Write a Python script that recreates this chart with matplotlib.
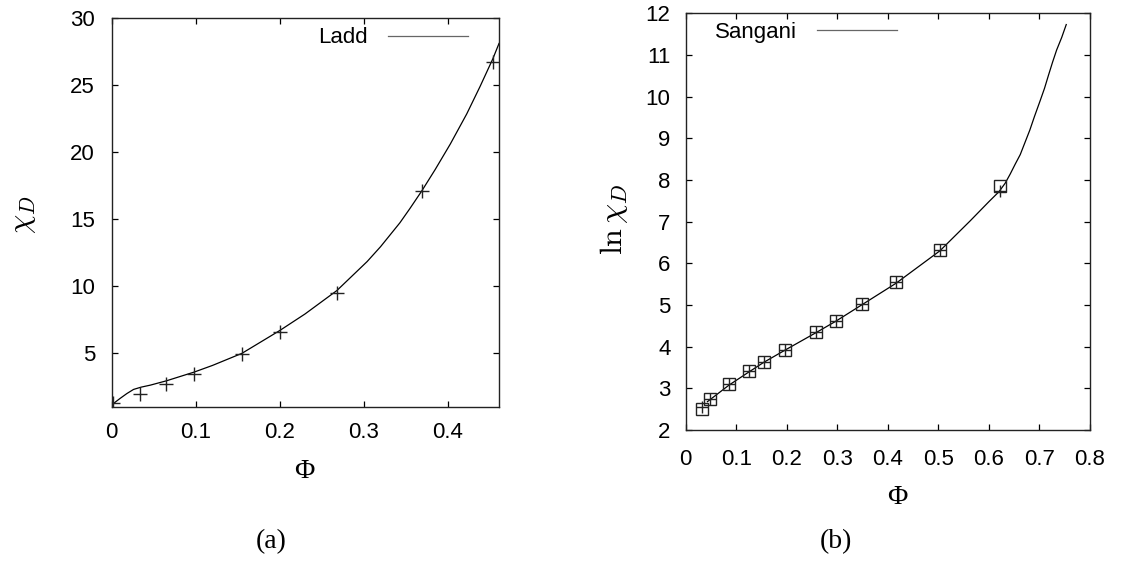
import matplotlib
matplotlib.use("Agg")
import matplotlib.pyplot as plt

# panel (a): Ladd curve and simulation points
ladd_phi = [0.0, 0.005, 0.01, 0.018, 0.026, 0.035, 0.046, 0.065, 0.098,
            0.12, 0.155, 0.200, 0.23, 0.268, 0.304, 0.32, 0.343, 0.355,
            0.369, 0.385, 0.403, 0.4226, 0.4385, 0.4536, 0.461]
ladd_chi = [1.15, 1.4, 1.64, 2.0, 2.31, 2.48, 2.63, 2.95, 3.6,
            4.1, 5.0, 6.7, 7.93, 9.68, 11.84, 12.95, 14.73, 15.8,
            17.1, 18.7, 20.6, 22.85, 24.9, 26.95, 28.1]
sim_a_phi = [0.002, 0.034, 0.065, 0.098, 0.155, 0.200, 0.268, 0.369, 0.454]
sim_a_chi = [1.29, 2.0, 2.74, 3.49, 4.93, 6.57, 9.53, 17.1, 26.7]

# panel (b): Sangani curve (ln chi_D) and two sets of points
sang_phi = [0.043, 0.086, 0.126, 0.154, 0.197, 0.257, 0.297, 0.348, 0.416,
            0.503, 0.563, 0.60, 0.62, 0.632, 0.642, 0.652, 0.662, 0.681,
            0.69, 0.701, 0.71, 0.718, 0.726, 0.734, 0.744, 0.753]
sang_ln = [2.68, 3.08, 3.40, 3.62, 3.92, 4.33, 4.61, 5.00, 5.52,
           6.30, 7.02, 7.48, 7.72, 7.92, 8.14, 8.38, 8.61, 9.2,
           9.52, 9.89, 10.2, 10.52, 10.83, 11.12, 11.42, 11.73]
sim_b_phi = [0.032, 0.048, 0.086, 0.126, 0.154, 0.197, 0.257, 0.297,
             0.348, 0.416, 0.503, 0.622]
sim_b_sq = [2.50, 2.74, 3.10, 3.42, 3.64, 3.92, 4.34, 4.62, 5.02, 5.54,
            6.32, 7.86]
sim_b_cross = [2.54, 2.74, 3.10, 3.42, 3.64, 3.92, 4.34, 4.62, 5.02, 5.54,
               6.32, 7.74]

plt.rcParams["mathtext.fontset"] = "cm"
sans = "Liberation Sans"
serif = "Liberation Serif"
TICK_FS = 16

W, H = 1137, 565
fig = plt.figure(figsize=(W / 100, H / 100), dpi=100)


def px_rect(left, right, top, bottom):
    return [left / W, 1 - bottom / H, (right - left) / W, (bottom - top) / H]


def style_axes(ax, xpad, ypad):
    ax.tick_params(direction="in", top=True, right=True, length=4.5,
                   width=0.9, labelsize=TICK_FS)
    ax.tick_params(axis="x", pad=xpad)
    ax.tick_params(axis="y", pad=ypad)
    for lab in ax.get_xticklabels() + ax.get_yticklabels():
        lab.set_family(sans)
    for sp in ax.spines.values():
        sp.set_linewidth(1.0)
        sp.set_color("#222222")


# ---- (a)
ax1 = fig.add_axes(px_rect(111.7, 499, 18, 407))
ax1.plot(ladd_phi, ladd_chi, color="black", lw=0.9, label="Ladd")
ax1.plot(sim_a_phi, sim_a_chi, ls="none", marker="+", ms=10, mew=1.0,
         color="#222222")
ax1.set_xlim(0, 0.461)
ax1.set_ylim(1, 30)
ax1.set_xticks([0, 0.1, 0.2, 0.3, 0.4])
ax1.set_xticklabels(["0", "0.1", "0.2", "0.3", "0.4"])
ax1.set_yticks([5, 10, 15, 20, 25, 30])
style_axes(ax1, 11, 12)
leg1 = ax1.legend(loc="center right", bbox_to_anchor=(0.92, 0.949),
                  markerfirst=False, frameon=False, borderpad=0,
                  borderaxespad=0, handlelength=3.6, handletextpad=0.9,
                  prop={"family": sans, "size": TICK_FS})
leg1.get_lines()[0].set_color("#666666")

# ---- (b)
ax2 = fig.add_axes(px_rect(685.7, 1090, 13.3, 430))
ax2.plot(sang_phi, sang_ln, color="black", lw=0.9, label="Sangani")
ax2.plot(sim_b_phi, sim_b_sq, ls="none", marker="s", ms=8, mew=1.0,
         mfc="none", mec="#222222")
ax2.plot(sim_b_phi, sim_b_cross, ls="none", marker="+", ms=8, mew=1.0,
         color="#222222")
ax2.set_xlim(0, 0.8)
ax2.set_ylim(2, 12)
ax2.set_xticks([0, 0.1, 0.2, 0.3, 0.4, 0.5, 0.6, 0.7, 0.8])
ax2.set_xticklabels(["0", "0.1", "0.2", "0.3", "0.4", "0.5", "0.6",
                     "0.7", "0.8"])
ax2.set_yticks(range(2, 13))
style_axes(ax2, 14, 11)
leg2 = ax2.legend(loc="center left", bbox_to_anchor=(0.0725, 0.954),
                  markerfirst=False, frameon=False, borderpad=0,
                  borderaxespad=0, handlelength=3.6, handletextpad=0.9,
                  prop={"family": sans, "size": TICK_FS})
leg2.get_lines()[0].set_color("#666666")

# axis labels and panel captions
fig.text(23 / W, 1 - 215 / H, r"$\chi_D$", rotation=90, ha="center",
         va="center", fontsize=22)
fig.text(614 / W, 1 - 219 / H, r"$\ln\chi_D$", rotation=90, ha="center",
         va="center", fontsize=23)
fig.text(304 / W, 1 - 472 / H, "Φ", ha="center", va="center",
         family=serif, fontsize=20)
fig.text(897 / W, 1 - 498 / H, "Φ", ha="center", va="center",
         family=serif, fontsize=20)
fig.text(271 / W, 1 - 542 / H, "(a)", ha="center", va="center",
         family=serif, fontsize=20)
fig.text(836 / W, 1 - 542 / H, "(b)", ha="center", va="center",
         family=serif, fontsize=20)

fig.savefig("out.png", dpi=100)
